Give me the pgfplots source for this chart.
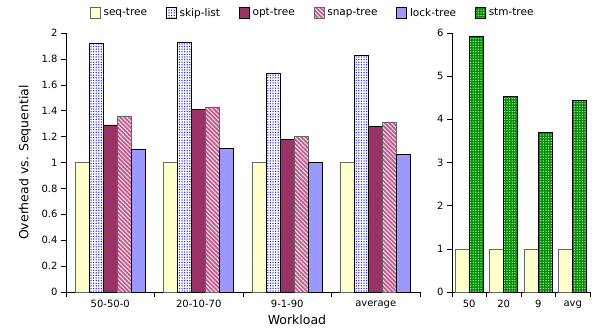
\documentclass[border=0pt]{standalone}
\usepackage{pgfplots}
\pgfplotsset{compat=1.18}
\usetikzlibrary{patterns,patterns.meta}
\usepackage{fontspec}
\setmainfont{DejaVu Sans}
\definecolor{seqc}{HTML}{FFFFCC}
\definecolor{optc}{HTML}{993366}
\definecolor{snapc}{HTML}{BF5F8F}
\definecolor{lockc}{HTML}{9999FF}
\definecolor{stmc}{HTML}{008A00}
\definecolor{stmdot}{HTML}{A8F0A8}
\pgfplotsset{
  every axis/.append style={
    scale only axis, height=259pt,
    ybar=0pt, bar width=14pt,
    axis lines*=left, tick align=outside,
    major tick length=5pt,
    xmin=-0.5, xmax=3.5, ymin=0,
    x tick label as interval,
    xtick={-0.5,0.5,1.5,2.5,3.5},
    tick style={black, line width=0.6pt},
    axis line style={black, line width=0.6pt},
    ticklabel style={font=\fontsize{10}{12}\selectfont},
    /pgf/number format/assume math mode=true,
    legend image code/.code={\draw[#1] (0pt,-5pt) rectangle (10pt,6pt);},
  },
  seqst/.style={draw=black!60, fill=seqc, line width=0.6pt},
  skipst/.style={draw=black, fill=white, line width=0.6pt, postaction={pattern={Dots[distance=2.6pt, radius=0.75pt]}, pattern color=blue!85}},
  optst/.style={draw=black, fill=optc, line width=0.6pt},
  snapst/.style={draw=black!60, fill=snapc, line width=0.6pt, postaction={pattern={Lines[angle=-45, distance=3pt, line width=1pt]}, pattern color=white!80!snapc}},
  lockst/.style={draw=black, fill=lockc, line width=0.6pt},
  stmst/.style={draw=black, fill=stmc, line width=0.6pt, postaction={pattern={Dots[distance=2.6pt, radius=0.75pt]}, pattern color=stmdot}},
}
\begin{document}
\begin{tikzpicture}
\begin{axis}[
  name=L, width=354pt,
  ymax=2,
  ytick={0,0.2,0.4,0.6,0.8,1,1.2,1.4,1.6,1.8,2},
  yticklabel style={/pgf/number format/fixed},
  xticklabels={50-50-0,20-10-70,9-1-90,average},
  ylabel={Overhead vs. Sequential},
  xlabel={Workload},
  every axis x label/.style={at={(axis description cs:0.6525,-0.108)}, anchor=center, font=\fontsize{12.5}{15}\selectfont},
  every axis y label/.style={at={(axis description cs:-0.1158,0.5)}, anchor=center, rotate=90, font=\fontsize{12.5}{15}\selectfont},
  legend columns=6,
  legend style={draw=none, fill=none, font=\fontsize{10.5}{12}\selectfont,
    at={(0.697,1.077)}, anchor=center,
    /tikz/every even column/.append style={column sep=17pt},
    /tikz/every odd column/.append style={column sep=1pt}},
]
\addplot[seqst] coordinates {(0,1.00) (1,1.00) (2,1.00) (3,1.00)};
\addlegendentry{seq-tree}
\addplot[skipst] coordinates {(0,1.92) (1,1.93) (2,1.69) (3,1.83)};
\addlegendentry{skip-list}
\addplot[optst] coordinates {(0,1.29) (1,1.41) (2,1.18) (3,1.28)};
\addlegendentry{opt-tree}
\addplot[snapst] coordinates {(0,1.36) (1,1.43) (2,1.20) (3,1.31)};
\addlegendentry{snap-tree}
\addplot[lockst] coordinates {(0,1.10) (1,1.11) (2,1.00) (3,1.06)};
\addlegendentry{lock-tree}
\addlegendimage{stmst}
\addlegendentry{stm-tree}
\end{axis}
\begin{axis}[
  at={(L.south west)}, anchor=south west, xshift=386pt,
  width=138pt,
  ymax=6,
  ytick={0,1,2,3,4,5,6},
  xticklabels={50,20,9,avg},
]
\addplot[seqst] coordinates {(0,1.00) (1,1.00) (2,1.00) (3,1.00)};
\addplot[stmst] coordinates {(0,5.93) (1,4.54) (2,3.70) (3,4.44)};
\end{axis}
\pgfresetboundingbox
\path ([shift={(-66pt,-38pt)}]L.south west) rectangle ++(595pt,330pt);
\end{tikzpicture}
\end{document}
